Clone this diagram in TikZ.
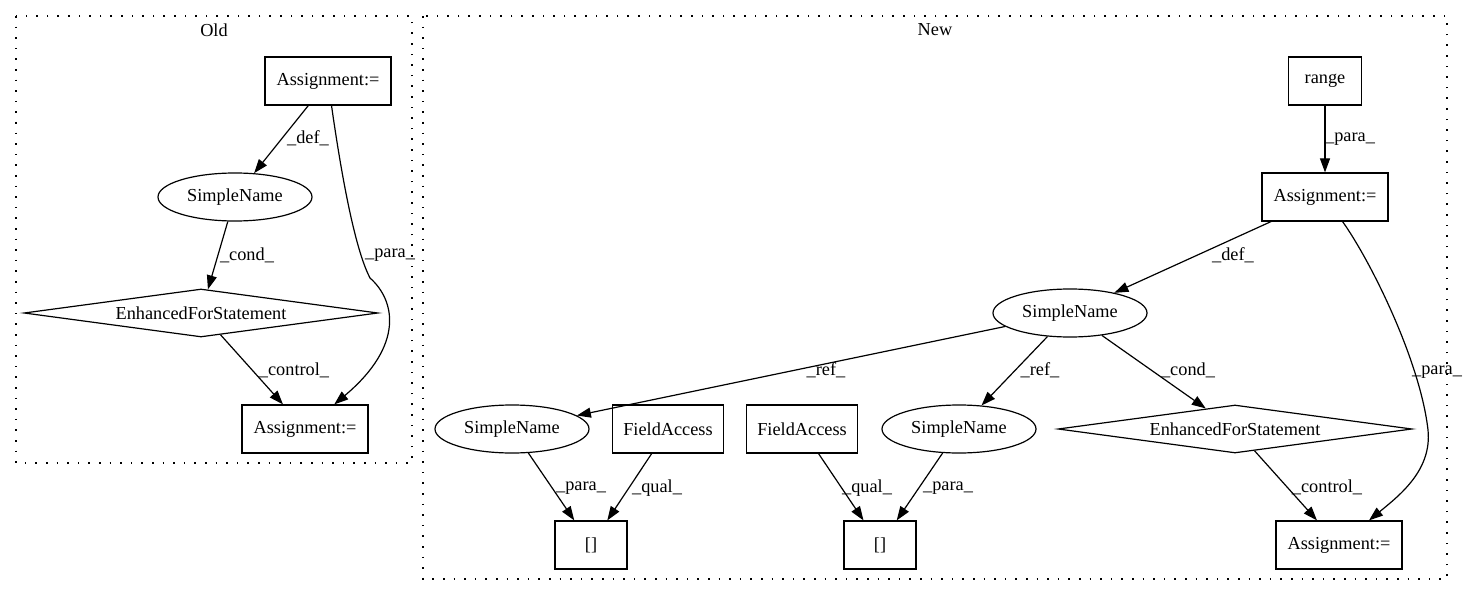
\documentclass[tikz,border=0pt]{standalone}
\usepackage{fontspec}
\setmainfont{Liberation Serif}
\usetikzlibrary{shapes.geometric,arrows.meta,positioning}

\begin{document}
\begin{tikzpicture}[x=1pt, y=-1pt,
    font=\fontsize{18.3}{22}\selectfont,
    box/.style={rectangle, draw, line width=1.2pt, minimum height=48pt, inner sep=0pt},
    oval/.style={ellipse, draw, line width=1.2pt, minimum width=154pt, minimum height=48pt, inner sep=0pt},
    forstmt/.style={diamond, draw, line width=1.2pt, aspect=7.4, minimum width=354pt, minimum height=48pt, inner sep=0pt},
    edge/.style={line width=1.2pt, -{Triangle[length=14pt, width=10pt]}},
    lbl/.style={inner sep=0pt},
    cluster/.style={line width=1.3pt, dash pattern=on 1.6pt off 9pt}]
    \useasboundingbox (0,0) rectangle (1469,596);

    % Old
    \draw[cluster] (16,16) rectangle (412,463);
    \node[lbl] (oldtitle) at (214,30) {Old};
    \node[box, minimum width=126pt] (oldassign) at (328,81) {Assignment:=};
    \node[oval] (oldname) at (235,197) {SimpleName};
    \node[forstmt] (oldfor) at (201,313) {EnhancedForStatement};
    \node[box, minimum width=126pt] (oldassign2) at (305,429) {Assignment:=};

    \draw[edge] (oldassign) -- (oldname) node[lbl, at={(308,138)}] {\_def\_};
    \draw[edge] (oldname) -- (oldfor) node[lbl, at={(247,255)}] {\_cond\_};
    \draw[edge] (oldfor) -- (oldassign2) node[lbl, at={(294,370)}] {\_control\_};
    \draw[edge] (oldassign) .. controls (345,200) and (358,255) .. (370,278)
        .. controls (395,300) and (405,345) .. (oldassign2)
        node[lbl, at={(390,255)}] {\_para\_};

    % New
    \draw[cluster] (423,16) rectangle (1447,579);
    \node[lbl] (newtitle) at (935,30) {New};
    \node[box, minimum width=73pt] (range) at (1325,81) {range};
    \node[box, minimum width=126pt] (newassign) at (1325,197) {Assignment:=};
    \node[oval] (newname) at (1070,313) {SimpleName};
    \node[oval] (nameleft) at (512,429) {SimpleName};
    \node[box, minimum width=111pt] (fieldleft) at (668,429) {FieldAccess};
    \node[box, minimum width=111pt] (fieldright) at (802,429) {FieldAccess};
    \node[oval] (nameright) at (959,429) {SimpleName};
    \node[forstmt] (newfor) at (1235,429) {EnhancedForStatement};
    \node[box, minimum width=72pt] (indexleft) at (591,545) {[]};
    \node[box, minimum width=72pt] (indexright) at (880,545) {[]};
    \node[box, minimum width=126pt] (newassign2) at (1339,545) {Assignment:=};

    \draw[edge] (range) -- (newassign) node[lbl, at={(1350,139)}] {\_para\_};
    \draw[edge] (newassign) -- (newname) node[lbl, at={(1233,255)}] {\_def\_};
    \draw[edge] (newname) -- (nameleft) node[lbl, at={(826,370)}] {\_ref\_};
    \draw[edge] (newname) -- (nameright) node[lbl, at={(1040,370)}] {\_ref\_};
    \draw[edge] (newname) -- (newfor) node[lbl, at={(1188,370)}] {\_cond\_};
    \draw[edge] (newfor) -- (newassign2) node[lbl, at={(1327,487)}] {\_control\_};
    \draw[edge] (newassign) .. controls (1370,260) and (1420,360) .. (1428,430)
        .. controls (1432,470) and (1400,495) .. (newassign2)
        node[lbl, at={(1437,372)}] {\_para\_};
    \draw[edge] (nameleft) -- (indexleft) node[lbl, at={(581,488)}] {\_para\_};
    \draw[edge] (fieldleft) -- (indexleft) node[lbl, at={(657,488)}] {\_qual\_};
    \draw[edge] (fieldright) -- (indexright) node[lbl, at={(867,488)}] {\_qual\_};
    \draw[edge] (nameright) -- (indexright) node[lbl, at={(948,488)}] {\_para\_};
\end{tikzpicture}
\end{document}
